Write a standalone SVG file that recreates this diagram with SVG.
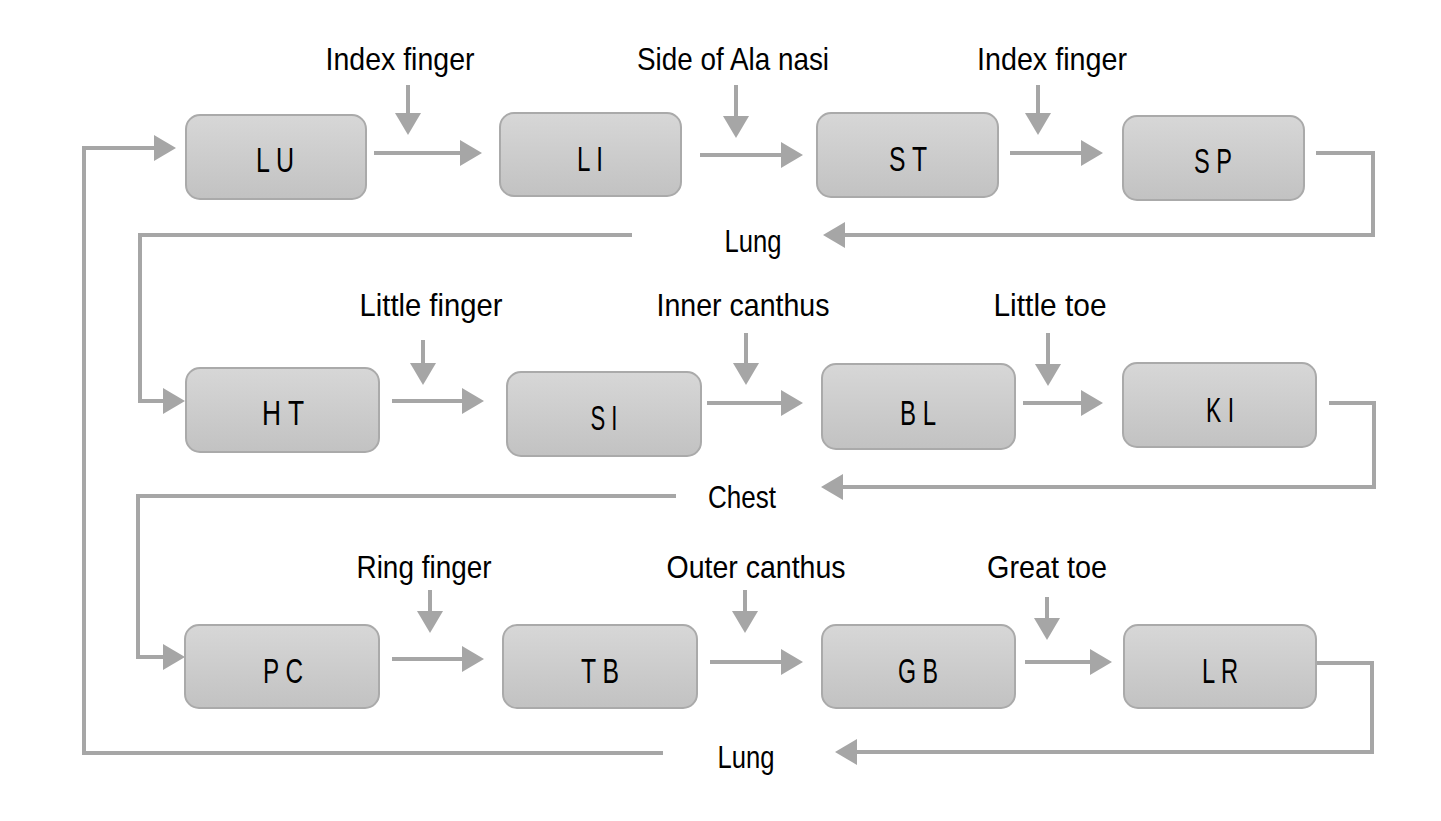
<svg xmlns="http://www.w3.org/2000/svg" width="1441" height="821" viewBox="0 0 1441 821">
<style>
.n rect{fill:url(#g);stroke:#aaaaaa;stroke-width:2}
.n text{font-family:"Liberation Sans",Arial,sans-serif;font-size:35px;fill:#000;text-anchor:middle}
.lbl{font-family:"Liberation Sans",Arial,sans-serif;font-size:32px;fill:#000;text-anchor:middle}
.c path{fill:none;stroke:#a6a6a6;stroke-width:4}
.c path.a{marker-end:url(#ah)}
</style>
<defs>
<linearGradient id="g" x1="0" y1="0" x2="0" y2="1">
<stop offset="0" stop-color="#d7d7d7"/>
<stop offset="1" stop-color="#c2c2c2"/>
</linearGradient>
<marker id="ah" markerUnits="userSpaceOnUse" markerWidth="24" markerHeight="26" viewBox="0 0 22 26" refX="1" refY="13" orient="auto">
<path d="M0,0 L22,13 L0,26 z" fill="#a6a6a6"/>
</marker>
</defs>
<rect width="1441" height="821" fill="#ffffff"/>
<g class="c" id="connectors">
<path class="a" d="M374,153 H461"/>
<path class="a" d="M408,85 V114"/>
<path class="a" d="M700,155 H782"/>
<path class="a" d="M736,85 V117"/>
<path class="a" d="M1010,153 H1082"/>
<path class="a" d="M1038,85 V114"/>
<path class="a" d="M1316,153 H1373 V235 H844"/>
<path class="a" d="M632,235 H140 V401 H164"/>
<path class="a" d="M392,401 H463"/>
<path class="a" d="M423,340 V364"/>
<path class="a" d="M707,403 H782"/>
<path class="a" d="M746,333 V364"/>
<path class="a" d="M1023,403 H1082"/>
<path class="a" d="M1048,333 V365"/>
<path class="a" d="M1329,403 H1374 V487 H842"/>
<path class="a" d="M676,496 H138 V657 H164"/>
<path class="a" d="M392,659 H463"/>
<path class="a" d="M430,590 V612"/>
<path class="a" d="M710,662 H782"/>
<path class="a" d="M745,590 V612"/>
<path class="a" d="M1025,662 H1091"/>
<path class="a" d="M1047,597 V619"/>
<path class="a" d="M1316,663 H1372 V752 H856"/>
<path class="a" d="M663,753 H84 V148 H155"/>
</g>
<g class="n" id="LU"><rect x="186" y="115" width="180" height="84" rx="14"/><text x="275" y="172" textLength="38" lengthAdjust="spacingAndGlyphs">L U</text></g>
<g class="n" id="LI"><rect x="500" y="113" width="181" height="83" rx="14"/><text x="590" y="171" textLength="26" lengthAdjust="spacingAndGlyphs">L I</text></g>
<g class="n" id="ST"><rect x="817" y="113" width="181" height="84" rx="14"/><text x="908" y="171" textLength="38" lengthAdjust="spacingAndGlyphs">S T</text></g>
<g class="n" id="SP"><rect x="1123" y="116" width="181" height="84" rx="14"/><text x="1213" y="173" textLength="38" lengthAdjust="spacingAndGlyphs">S P</text></g>
<g class="n" id="HT"><rect x="186" y="368" width="193" height="84" rx="14"/><text x="283" y="425" textLength="42" lengthAdjust="spacingAndGlyphs">H T</text></g>
<g class="n" id="SI"><rect x="507" y="372" width="194" height="84" rx="14"/><text x="604" y="430" textLength="27" lengthAdjust="spacingAndGlyphs">S I</text></g>
<g class="n" id="BL"><rect x="822" y="364" width="193" height="85" rx="14"/><text x="918" y="425" textLength="36" lengthAdjust="spacingAndGlyphs">B L</text></g>
<g class="n" id="KI"><rect x="1123" y="363" width="193" height="84" rx="14"/><text x="1220" y="422" textLength="28" lengthAdjust="spacingAndGlyphs">K I</text></g>
<g class="n" id="PC"><rect x="185" y="625" width="194" height="83" rx="14"/><text x="283" y="683" textLength="40" lengthAdjust="spacingAndGlyphs">P C</text></g>
<g class="n" id="TB"><rect x="503" y="625" width="194" height="83" rx="14"/><text x="600" y="683" textLength="38" lengthAdjust="spacingAndGlyphs">T B</text></g>
<g class="n" id="GB"><rect x="822" y="625" width="193" height="83" rx="14"/><text x="918" y="683" textLength="40" lengthAdjust="spacingAndGlyphs">G B</text></g>
<g class="n" id="LR"><rect x="1124" y="625" width="192" height="83" rx="14"/><text x="1220" y="683" textLength="36" lengthAdjust="spacingAndGlyphs">L R</text></g>
<g id="labels">
<text class="lbl" x="400" y="70" textLength="149" lengthAdjust="spacingAndGlyphs">Index finger</text>
<text class="lbl" x="733" y="70" textLength="192" lengthAdjust="spacingAndGlyphs">Side of Ala nasi</text>
<text class="lbl" x="1052" y="70" textLength="150" lengthAdjust="spacingAndGlyphs">Index finger</text>
<text class="lbl" x="753" y="252" textLength="57" lengthAdjust="spacingAndGlyphs">Lung</text>
<text class="lbl" x="431" y="316" textLength="143" lengthAdjust="spacingAndGlyphs">Little finger</text>
<text class="lbl" x="743" y="316" textLength="173" lengthAdjust="spacingAndGlyphs">Inner canthus</text>
<text class="lbl" x="1050" y="316" textLength="113" lengthAdjust="spacingAndGlyphs">Little toe</text>
<text class="lbl" x="742" y="508" textLength="68" lengthAdjust="spacingAndGlyphs">Chest</text>
<text class="lbl" x="424" y="578" textLength="135" lengthAdjust="spacingAndGlyphs">Ring finger</text>
<text class="lbl" x="756" y="578" textLength="179" lengthAdjust="spacingAndGlyphs">Outer canthus</text>
<text class="lbl" x="1047" y="578" textLength="120" lengthAdjust="spacingAndGlyphs">Great toe</text>
<text class="lbl" x="746" y="768" textLength="57" lengthAdjust="spacingAndGlyphs">Lung</text>
</g>
</svg>
